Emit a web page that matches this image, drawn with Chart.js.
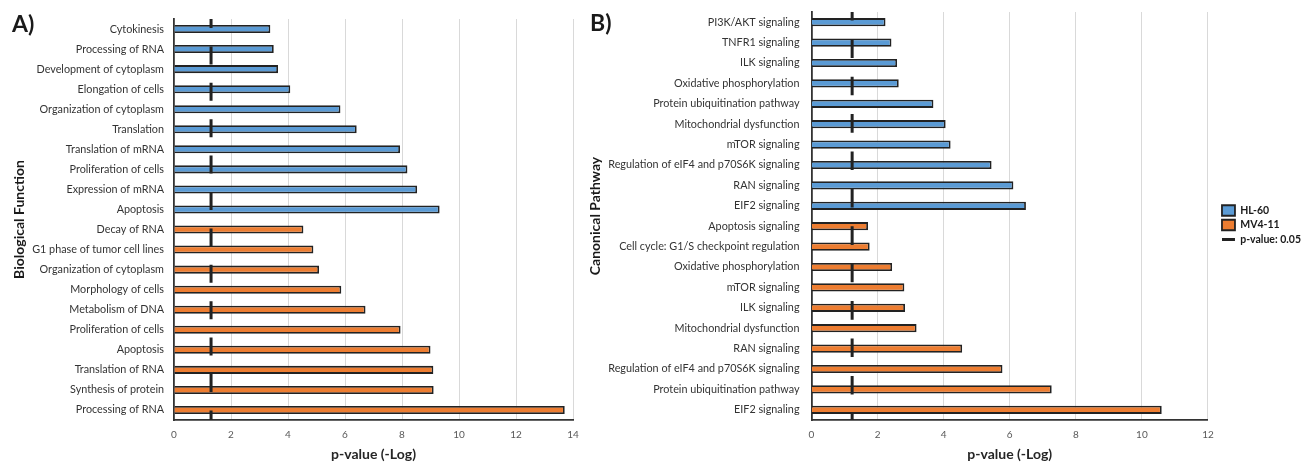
<!DOCTYPE html>
<html><head><meta charset="utf-8">
<script src="https://cdn.jsdelivr.net/npm/chart.js@4.4.0/dist/chart.umd.min.js"></script>
<style>
html,body{margin:0;padding:0;background:#fff;}
#wrap{position:relative;width:1301px;height:464px;overflow:hidden;font-family:Lato,sans-serif;}
.box{position:absolute;top:0;height:464px;}
#boxA{left:0;width:590px;}
#boxB{left:580px;width:731px;}
.tag{position:absolute;font-weight:bold;font-size:23px;color:#1a1a1a;line-height:1;font-family:Lato,sans-serif;}
</style></head><body>
<div id="wrap">
<div class="box" id="boxA"><canvas id="cA" width="590" height="464"></canvas></div>
<div class="box" id="boxB"><canvas id="cB" width="731" height="464"></canvas></div>
<div class="tag" style="left:12px;top:12px">A)</div>
<div class="tag" style="left:590px;top:11px">B)</div>
</div>
<script>
// ---- Data ----
const bioLabels = ['Cytokinesis','Processing of RNA','Development of cytoplasm','Elongation of cells','Organization of cytoplasm','Translation','Translation of mRNA','Proliferation of cells','Expression of mRNA','Apoptosis','Decay of RNA','G1 phase of tumor cell lines','Organization of cytoplasm','Morphology of cells','Metabolism of DNA','Proliferation of cells','Apoptosis','Translation of RNA','Synthesis of protein','Processing of RNA'];
const bioHL60 = [3.38,3.50,3.65,4.08,5.84,6.41,7.93,8.19,8.53,9.32,null,null,null,null,null,null,null,null,null,null];
const bioMV411 = [null,null,null,null,null,null,null,null,null,null,4.54,4.89,5.09,5.87,6.72,7.95,9.00,9.10,9.11,13.71];
const bioThreshold = 1.3;

const pathLabels = ['PI3K/AKT signaling','TNFR1 signaling','ILK signaling','Oxidative phosphorylation','Protein ubiquitination pathway','Mitochondrial dysfunction','mTOR signaling','Regulation of eIF4 and p70S6K signaling','RAN signaling','EIF2 signaling','Apoptosis signaling','Cell cycle: G1/S checkpoint regulation','Oxidative phosphorylation','mTOR signaling','ILK signaling','Mitochondrial dysfunction','RAN signaling','Regulation of eIF4 and p70S6K signaling','Protein ubiquitination pathway','EIF2 signaling'];
const pathHL60 = [2.24,2.42,2.59,2.64,3.69,4.06,4.21,5.45,6.11,6.49,null,null,null,null,null,null,null,null,null,null];
const pathMV411 = [null,null,null,null,null,null,null,null,null,null,1.71,1.76,2.44,2.81,2.83,3.18,4.56,5.78,7.27,10.60];
const pathThreshold = 1.23;

const seriesNames = ['HL-60','MV4-11','p-value: 0.05'];
const xTitle = 'p-value (-Log)';

const BLUE = '#5b9bd5', ORANGE = '#ed7d31', EDGE = '#222222';
const FONT = 'Lato, sans-serif';

// dash style for the threshold line: a short first dash, then regular gap/dash pairs
function dashStyle(first, gap, dash, n) {
  const a = [first];
  for (let i = 0; i < n; i++) a.push(gap, dash);
  a.push(5000);
  return a;
}

function makeChart(id, labels, hl, mv, pval, o) {
  return new Chart(document.getElementById(id), {
    type: 'bar',
    data: {
      labels: labels,
      datasets: [
        {label: seriesNames[0], data: hl, backgroundColor: BLUE, borderColor: EDGE, borderWidth: 1.8, order: 2},
        {label: seriesNames[1], data: mv, backgroundColor: ORANGE, borderColor: EDGE, borderWidth: 1.8, order: 2},
        {type: 'line', label: seriesNames[2], indexAxis: 'x', xAxisID: 'x', yAxisID: 'y2',
         data: [{x: pval, y: 1}, {x: pval, y: 0}],
         borderColor: EDGE, backgroundColor: EDGE, borderWidth: 3, borderDash: o.dash, borderDashOffset: 0,
         pointRadius: 0, fill: false, order: 1}
      ]
    },
    options: {
      indexAxis: 'y', responsive: false, animation: false,
      layout: {padding: {top: o.top, right: o.right, bottom: 0, left: 0}},
      datasets: {bar: {grouped: false, barPercentage: 0.4, categoryPercentage: 1}},
      plugins: {
        tooltip: {enabled: false},
        legend: o.legend ? {
          display: true, position: 'right', align: 'center', fullSize: false,
          title: {display: true, text: ' ', font: {family: FONT, size: 10}, padding: {top: 3, bottom: 3}},
          labels: {
            usePointStyle: true, pointStyleWidth: 13, boxWidth: 13, boxHeight: 12, padding: 4,
            color: '#1a1a1a', font: {family: FONT, size: 10.5, weight: 'bold'},
            generateLabels: (chart) => chart.data.datasets.map((d, i) => ({
              text: d.label, datasetIndex: i, hidden: false,
              fillStyle: d.type === 'line' ? EDGE : d.backgroundColor,
              strokeStyle: EDGE, lineWidth: d.type === 'line' ? 3 : 1.8,
              pointStyle: d.type === 'line' ? 'line' : 'rect', fontColor: '#1a1a1a'
            }))
          }
        } : {display: false}
      },
      scales: {
        x: {
          type: 'linear', min: 0, max: o.max,
          ticks: {stepSize: 2, padding: 9, color: '#595959', font: {family: FONT, size: 10}},
          grid: {color: (c) => (c.tick && c.tick.value === 0) ? 'rgba(0,0,0,0)' : '#d9d9d9', lineWidth: 1, drawTicks: false},
          border: {display: true, color: '#333333', width: 1.8},
          title: {display: true, text: xTitle, color: '#262626', font: {family: FONT, size: 14, weight: 'bold'}, padding: {top: 0, bottom: 1}},
          afterFit: (s) => { s.height = 44; }
        },
        y: {
          type: 'category',
          grid: {display: false, drawTicks: false},
          border: {display: true, color: '#333333', width: 1.8},
          ticks: {padding: o.tickPad, color: '#333333', font: {family: FONT, size: 10.8}, autoSkip: false},
          title: {display: true, text: o.ytitle, color: '#1a1a1a', font: {family: FONT, size: 14, weight: 'bold'}, padding: {top: o.titlePad, bottom: 0}},
          afterFit: (s) => { s.width = o.yw; s.paddingTop = 0; s.paddingBottom = 0; }
        },
        y2: {
          type: 'linear', min: 0, max: 1, offset: false, position: 'right', display: o.legend,
          ticks: {display: false}, grid: {display: false, drawTicks: false, offset: false}, border: {display: false},
          afterFit: (s) => { s.width = o.gap; }
        }
      }
    }
  });
}

makeChart('cA', bioLabels, bioHL60, bioMV411, bioThreshold, {
  top: 19, right: 17, max: 14, yw: 174, tickPad: 10, titlePad: 11, gap: 0,
  ytitle: 'Biological Function', dash: dashStyle(9, 18.4, 18, 11), legend: false
});
makeChart('cB', pathLabels, pathHL60, pathMV411, pathThreshold, {
  top: 12, right: 0, max: 12, yw: 231.5, tickPad: 12, titlePad: 7, gap: 10,
  ytitle: 'Canonical Pathway', dash: dashStyle(8.5, 18.8, 18.6, 11), legend: true
});
</script>
</body></html>
